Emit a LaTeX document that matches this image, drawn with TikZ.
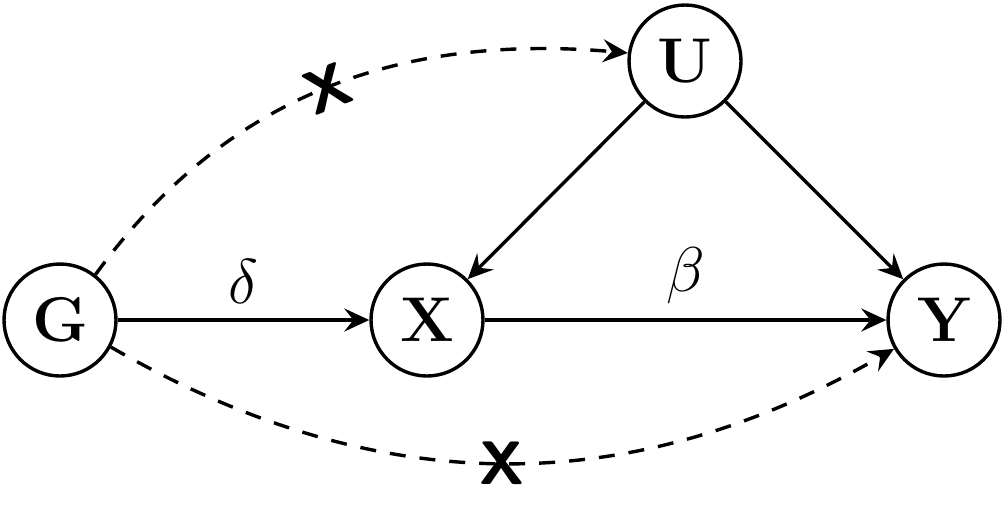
\RequirePackage{fix-cm}
\documentclass[tikz,border=0pt]{standalone}
\usetikzlibrary{arrows.meta}
\begin{document}
\begin{tikzpicture}[x=0.02cm,y=-0.02cm,
  var/.style={circle,draw,line width=0.068cm,minimum size=2.24cm,inner sep=0pt,font=\fontsize{36}{40}\selectfont\bfseries},
  arr/.style={line width=0.068cm,-{Stealth[length=0.5cm,width=0.46cm,inset=0.18cm]}},
  dsh/.style={arr,dash pattern=on 0.32cm off 0.28cm},
  lbl/.style={font=\fontsize{36}{40}\selectfont, above, inner sep=0.3cm},
  cross/.style={font=\fontsize{35}{38}\selectfont\sffamily\bfseries, sloped, inner sep=0pt}
]
\useasboundingbox (0,0) rectangle (1006,522);
\node[var] (G) at (60,320) {G};
\node[var] (X) at (427,320) {X};
\node[var] (U) at (685,61) {U};
\node[var] (Y) at (944,320) {Y};
\draw[arr] (G) -- node[lbl]{$\delta$} (X);
\draw[arr] (X) -- node[lbl]{$\beta$} (Y);
\draw[arr] (U) -- (X);
\draw[arr] (U) -- (Y);
\draw[dsh] (G.52) to[out=54,in=175] node[cross]{X} (U.172);
\draw[dsh] (G.-28) to[out=-30,in=210] node[cross]{X} (Y.210);
\end{tikzpicture}
\end{document}
